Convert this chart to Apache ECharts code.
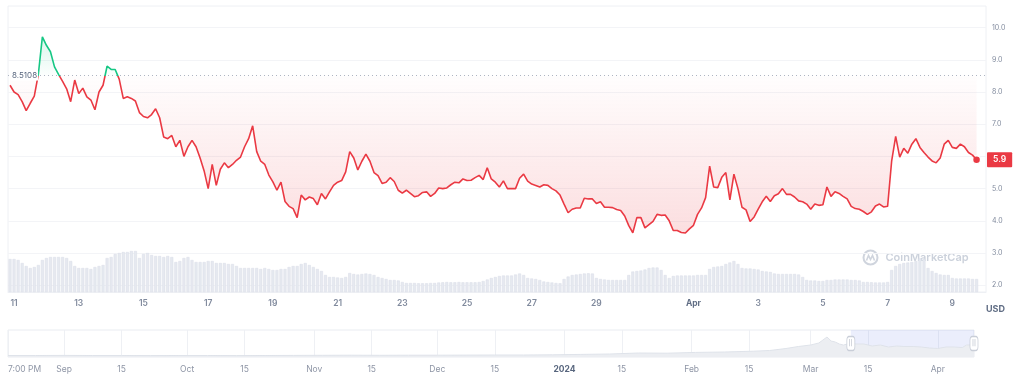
<!DOCTYPE html>
<html><head><meta charset="utf-8">
<script src="https://cdn.jsdelivr.net/npm/echarts@6/dist/echarts.min.js"></script>
<style>html,body{margin:0;padding:0;background:#fff}#c{width:1024px;height:387px}</style>
</head><body><div id="c"></div>
<script>
// ---- data ----
const START = '2024-03-10T21:00:00Z';   // first sample
const STEP_HOURS = 3;                    // sampling step
const BASELINE = 8.5108;                 // price at start of period (reference line)

const price = [
  8.21, 8.00, 7.92, 7.70, 7.42, 7.65, 7.87, 8.55, 9.71, 9.45,
  9.25, 8.78, 8.55, 8.33, 8.10, 7.70, 8.37, 7.95, 8.12, 7.85,
  7.75, 7.45, 8.00, 8.21, 8.80, 8.70, 8.70, 8.40, 7.80, 7.85,
  7.80, 7.72, 7.36, 7.24, 7.20, 7.30, 7.48, 7.20, 6.60, 6.55,
  6.65, 6.30, 6.50, 6.00, 6.30, 6.50, 6.30, 5.95, 5.55, 5.00,
  5.75, 5.10, 5.60, 5.80, 5.65, 5.75, 5.88, 5.98, 6.30, 6.55,
  6.95, 6.15, 5.85, 5.75, 5.42, 5.21, 4.95, 5.20, 4.60, 4.45,
  4.38, 4.10, 4.80, 4.65, 4.74, 4.69, 4.50, 4.85, 4.68, 4.90,
  5.10, 5.20, 5.25, 5.52, 6.15, 5.95, 5.58, 5.85, 6.07, 5.85,
  5.50, 5.40, 5.16, 5.20, 5.34, 5.22, 4.95, 4.86, 4.95, 4.85,
  4.75, 4.78, 4.88, 4.90, 4.76, 4.85, 5.02, 5.00, 5.02, 5.12,
  5.20, 5.18, 5.30, 5.25, 5.26, 5.34, 5.41, 5.28, 5.65, 5.30,
  5.20, 5.05, 5.24, 5.00, 5.00, 5.00, 5.32, 5.45, 5.23, 5.14,
  5.10, 5.05, 5.12, 5.10, 5.00, 4.93, 4.80, 4.52, 4.25, 4.36,
  4.40, 4.40, 4.70, 4.68, 4.68, 4.54, 4.59, 4.42, 4.42, 4.41,
  4.35, 4.32, 4.15, 3.85, 3.63, 4.10, 4.10, 3.78, 3.88, 3.98,
  4.20, 4.17, 4.18, 4.00, 3.70, 3.70, 3.64, 3.62, 3.75, 3.86,
  4.20, 4.40, 4.72, 5.70, 5.05, 5.03, 5.35, 5.50, 4.65, 5.45,
  5.00, 4.42, 4.34, 3.98, 4.12, 4.36, 4.59, 4.76, 4.60, 4.78,
  4.84, 5.00, 4.82, 4.82, 4.74, 4.62, 4.59, 4.52, 4.36, 4.52,
  4.48, 4.50, 5.05, 4.76, 4.90, 4.85, 4.76, 4.68, 4.45, 4.38,
  4.36, 4.29, 4.20, 4.28, 4.46, 4.52, 4.43, 4.45, 5.85, 6.62,
  5.98, 6.25, 6.10, 6.38, 6.55, 6.28, 6.12, 5.98, 5.86, 5.80,
  5.95, 6.38, 6.50, 6.28, 6.25, 6.38, 6.30, 6.12, 6.04, 5.90
];

// trading volume (millions USD) per sample
const volume = [
  33, 33, 32, 29, 26, 24, 25, 27, 32, 34,
  35, 35, 35, 35, 34, 31, 26, 24, 24, 24,
  23, 25, 26, 27, 34, 35, 38, 39, 40, 40,
  41, 41, 34, 38, 39, 37, 36, 36, 35, 36,
  35, 30, 31, 34, 35, 32, 30, 30, 30, 31,
  31, 29, 29, 29, 28, 28, 26, 24, 24, 24,
  24, 24, 23, 24, 23, 22, 22, 23, 23, 25,
  26, 26, 28, 29, 27, 25, 23, 21, 17, 15,
  15, 14.5, 14, 15, 19, 18, 17.5, 18, 18.5, 18,
  17, 15, 14, 13, 12, 12, 11.5, 10, 9, 9,
  9, 8.7, 8.7, 8.7, 9, 9, 9.5, 9.7, 10, 9.7,
  9.7, 10, 9.7, 9.7, 9.7, 9.7, 10, 11, 12.5, 14,
  15, 16, 16.5, 16.5, 16.5, 17.5, 18.5, 17, 14, 13.5,
  13, 12, 10.5, 10, 9.5, 9, 8.7, 13, 15.5, 17,
  17.5, 18, 18.5, 18.7, 18.5, 14, 13, 12.5, 12, 12,
  12, 12, 12, 17, 20.5, 21, 21.5, 22.5, 24, 24.5,
  24.5, 22, 17, 14, 16, 16.5, 16.5, 16.5, 16.5, 16.5,
  17, 17, 17, 23, 25, 25.5, 26, 28, 29.5, 31,
  28, 24, 23.5, 23.5, 23, 22.5, 21, 20.5, 20, 18.5,
  18, 18, 18, 18, 18, 17.5, 15, 12, 11.5, 11.5,
  11, 11, 12, 12, 12.5, 12.5, 12.5, 12.5, 12, 12,
  11.5, 10, 10, 9.7, 9.5, 9.5, 9.5, 10, 22, 26,
  28, 29, 29.5, 30, 31, 33.5, 33, 24, 21, 19,
  17.5, 17, 17, 14, 13.5, 13.5, 13.5, 13.5, 13, 13
];

const priceTicks = [2, 3, 4, 5, 6, 7, 8, 9, 10];
const dateTicks = ['2024-03-11','2024-03-13','2024-03-15','2024-03-17','2024-03-19','2024-03-21',
  '2024-03-23','2024-03-25','2024-03-27','2024-03-29','2024-04-01','2024-04-03','2024-04-05',
  '2024-04-07','2024-04-09'];
const mainRange = ['2024-03-10T19:30:00Z', '2024-04-10T01:00:00Z'];

// overview (navigator) series
const navDates = ['2023-08-18T08:00:00Z','2023-08-25','2023-09-01','2023-09-08','2023-09-15','2023-09-22',
  '2023-09-29','2023-10-06','2023-10-13','2023-10-20','2023-10-27','2023-11-03','2023-11-10','2023-11-17',
  '2023-11-24','2023-12-01','2023-12-08','2023-12-15','2023-12-22','2023-12-29','2024-01-05','2024-01-12',
  '2024-01-19','2024-01-26','2024-02-02','2024-02-09','2024-02-16','2024-02-20','2024-02-24','2024-02-27',
  '2024-03-01','2024-03-03','2024-03-04','2024-03-05','2024-03-06','2024-03-07','2024-03-08','2024-03-09',
  '2024-03-10','2024-03-11','2024-03-12','2024-03-14','2024-03-16','2024-03-18','2024-03-20','2024-03-22',
  '2024-03-24','2024-03-26','2024-03-28','2024-03-30','2024-04-01','2024-04-03','2024-04-05','2024-04-07',
  '2024-04-08','2024-04-09T20:00:00Z'];
const navValues = [0.75,0.75,0.8,0.75,0.75,0.7,
  0.75,0.75,0.7,0.75,0.8,0.85,0.9,0.85,
  0.9,0.9,0.95,1.0,1.0,1.1,1.3,1.5,
  2.0,1.9,2.3,2.5,2.9,3.25,4.25,5.25,
  6.0,7.0,8.5,10.0,8.0,7.5,6.5,6.0,
  6.5,7.5,6.5,6.5,5.5,6.0,5.0,5.5,
  5.25,5.25,5.0,4.5,4.25,5.0,5.0,4.75,
  6.0,6.0];
const navTicks = ['2023-09-01','2023-09-15','2023-10-01','2023-10-15','2023-11-01','2023-11-15',
  '2023-12-01','2023-12-15','2024-01-01','2024-01-15','2024-02-01','2024-02-15','2024-03-01',
  '2024-03-15','2024-04-01'];
const navRange = ['2023-08-18T08:00:00Z', '2024-04-09T20:00:00Z'];

// ---- build ----
const MONTHS = ['Jan','Feb','Mar','Apr','May','Jun','Jul','Aug','Sep','Oct','Nov','Dec'];
const ts = s => Date.parse(s.length === 10 ? s + 'T00:00:00Z' : s);
const t0 = ts(START);
const times = price.map((_, i) => t0 + i * STEP_HOURS * 3600e3);
const priceData = times.map((t, i) => [t, price[i]]);
const redData = times.map((t, i) => [t, Math.min(price[i], BASELINE)]);
const greenData = times.map((t, i) => [t, Math.max(price[i], BASELINE)]);
const volData = times.map((t, i) => [t, volume[i]]);
const navData = navDates.map((d, i) => [ts(d), navValues[i]]);
const last = price[price.length - 1];
const lastT = times[times.length - 1];
const mainTicks = dateTicks.map(ts);
const navTickVals = [ts(navRange[0])].concat(navTicks.map(ts));

const labelGrey = '#808a9d';
const chart = echarts.init(document.getElementById('c'), null, {renderer: 'canvas'});
chart.setOption({
  animation: false,
  textStyle: {fontFamily: 'Inter, "Noto Sans", sans-serif'},
  grid: [
    {left: 8, right: 38, top: 6, bottom: 95, show: true, borderColor: '#eef0f4', borderWidth: 1},
    {left: 8, right: 50, top: 330, height: 27, show: true, borderColor: '#e9ecf1', borderWidth: 1}
  ],
  visualMap: {
    type: 'piecewise', show: false, seriesIndex: 0, dimension: 1,
    pieces: [{gte: 0, lt: BASELINE, color: '#ea3943'}, {gte: BASELINE, lte: 1000, color: '#16c784'}]
  },
  xAxis: [
    {
      type: 'value', gridIndex: 0, min: ts(mainRange[0]), max: ts(mainRange[1]),
      axisLine: {show: true, lineStyle: {color: '#eef0f4'}},
      axisTick: {show: false, customValues: mainTicks},
      splitLine: {show: false},
      axisLabel: {
        customValues: mainTicks, margin: 7, fontSize: 8.5, fontWeight: 600, color: labelGrey,
        formatter: v => { const d = new Date(v); return d.getUTCDate() === 1 ? '{m|' + MONTHS[d.getUTCMonth()] + '}' : String(d.getUTCDate()); },
        rich: {m: {fontSize: 8.5, fontWeight: 700, color: '#616e85'}}
      }
    },
    {
      type: 'value', gridIndex: 1, min: ts(navRange[0]), max: ts(navRange[1]),
      axisLine: {show: false},
      axisTick: {show: false, customValues: navTickVals},
      splitLine: {show: true, lineStyle: {color: '#eef0f4'}},
      axisLabel: {
        customValues: navTickVals, margin: 8, fontSize: 8.5, color: '#8f96a6', alignMinLabel: 'left',
        formatter: v => {
          if (v === navTickVals[0]) return '7:00 PM';
          const d = new Date(v);
          if (d.getUTCDate() === 1) return d.getUTCMonth() === 0 ? '{y|' + d.getUTCFullYear() + '}' : MONTHS[d.getUTCMonth()];
          return String(d.getUTCDate());
        },
        rich: {y: {fontSize: 8.5, fontWeight: 700, color: '#58667e'}}
      }
    }
  ],
  yAxis: [
    {
      type: 'value', gridIndex: 0, position: 'right', min: 1.79, max: 10.67,
      axisLine: {show: false},
      axisTick: {show: false, customValues: priceTicks},
      splitLine: {show: true, lineStyle: {color: '#f3f4f7'}},
      axisLabel: {customValues: priceTicks, margin: 6, fontSize: 7, color: labelGrey, formatter: v => v.toFixed(1)},
      name: 'USD', nameLocation: 'start', nameGap: 13,
      nameTextStyle: {align: 'left', fontSize: 9, fontWeight: 700, color: '#616e85'}
    },
    {type: 'value', gridIndex: 0, min: 0, max: 286, show: false},
    {
      type: 'value', gridIndex: 0, position: 'left', min: 1.79, max: 10.67, z: 10,
      axisLine: {show: false}, axisTick: {show: false}, splitLine: {show: false},
      axisLabel: {inside: true, customValues: [BASELINE], margin: 3, fontSize: 8, color: '#58667e',
        backgroundColor: '#fff', padding: [1, 1], formatter: v => String(BASELINE)}
    },
    {type: 'value', gridIndex: 1, min: 0, max: 13.5, show: false}
  ],
  series: [
    {
      name: 'Price', type: 'line', xAxisIndex: 0, yAxisIndex: 0, data: priceData,
      showSymbol: false, symbol: 'none', z: 5,
      lineStyle: {width: 1.6},
      markLine: {
        silent: true, symbol: ['none', 'none'], animation: false,
        data: [
          {yAxis: BASELINE, lineStyle: {type: [1, 3], color: '#aeb5c2', width: 1}, label: {show: false}},
          {yAxis: last, lineStyle: {color: 'rgba(0,0,0,0)', width: 1, type: 'solid'}, label: {show: true, position: 'end', distance: 1,
            formatter: last.toFixed(1), backgroundColor: '#ea3943', color: '#fff', fontWeight: 600,
            fontSize: 8.5, padding: [3, 6, 3, 6], borderRadius: 1}}
        ]
      },
      markPoint: {
        silent: true, animation: false,
        data: [{coord: [lastT, last], symbol: 'circle', symbolSize: 8,
          itemStyle: {color: '#ea3943', borderColor: '#fff', borderWidth: 1.5}, label: {show: false}}]
      }
    },
    {
      name: 'below', type: 'line', xAxisIndex: 0, yAxisIndex: 0, data: redData,
      showSymbol: false, symbol: 'none', silent: true, z: 3,
      lineStyle: {width: 0, opacity: 0},
      areaStyle: {origin: BASELINE, color: {type: 'linear', x: 0, y: 0, x2: 0, y2: 1,
        colorStops: [{offset: 0, color: 'rgba(234,57,67,0.01)'}, {offset: 1, color: 'rgba(234,57,67,0.24)'}]}}
    },
    {
      name: 'above', type: 'line', xAxisIndex: 0, yAxisIndex: 0, data: greenData,
      showSymbol: false, symbol: 'none', silent: true, z: 3,
      lineStyle: {width: 0, opacity: 0},
      areaStyle: {origin: BASELINE, color: {type: 'linear', x: 0, y: 0, x2: 0, y2: 1,
        colorStops: [{offset: 0, color: 'rgba(22,199,132,0.22)'}, {offset: 1, color: 'rgba(22,199,132,0.02)'}]}}
    },
    {
      name: 'Volume', type: 'bar', xAxisIndex: 0, yAxisIndex: 1, data: volData,
      barWidth: 3, silent: true, z: 1,
      itemStyle: {color: '#e6e9f0', borderColor: '#d8dde6', borderWidth: 0.5}
    },
    {
      name: 'Overview', type: 'line', xAxisIndex: 1, yAxisIndex: 3, data: navData,
      showSymbol: false, symbol: 'none', silent: true, z: 2,
      lineStyle: {width: 1, color: '#dfe3ea'},
      areaStyle: {color: '#eceef2', opacity: 1},
      markArea: {
        silent: true,
        itemStyle: {color: 'rgba(110,135,235,0.14)'},
        data: [[{xAxis: ts(mainRange[0])}, {xAxis: ts(navRange[1])}]]
      },
      markPoint: {
        silent: true, symbol: 'roundRect', symbolSize: [8, 14],
        itemStyle: {color: '#fff', borderColor: '#c9ced8', borderWidth: 1},
        label: {show: true, position: 'inside', formatter: '||', fontSize: 6, color: '#a8afbd'},
        data: [{coord: [ts(mainRange[0]), 6.75]}, {coord: [ts(navRange[1]), 6.75]}]
      }
    }
  ],
  graphic: [{
    type: 'group', left: 861, top: 248, silent: true,
    children: [
      {type: 'circle', shape: {cx: 8, cy: 8, r: 7}, style: {fill: 'none', stroke: 'rgba(140,152,175,0.42)', lineWidth: 2}},
      {type: 'polyline', shape: {points: [[4, 11], [6, 6], [8, 10], [10, 6], [12, 11]]},
        style: {fill: 'none', stroke: 'rgba(140,152,175,0.42)', lineWidth: 1.6}},
      {type: 'text', x: 23, y: 8, style: {text: 'CoinMarketCap', fill: 'rgba(140,152,175,0.45)',
        font: '600 11px Inter, sans-serif', verticalAlign: 'middle'}}
    ]
  }]
});
</script></body></html>
